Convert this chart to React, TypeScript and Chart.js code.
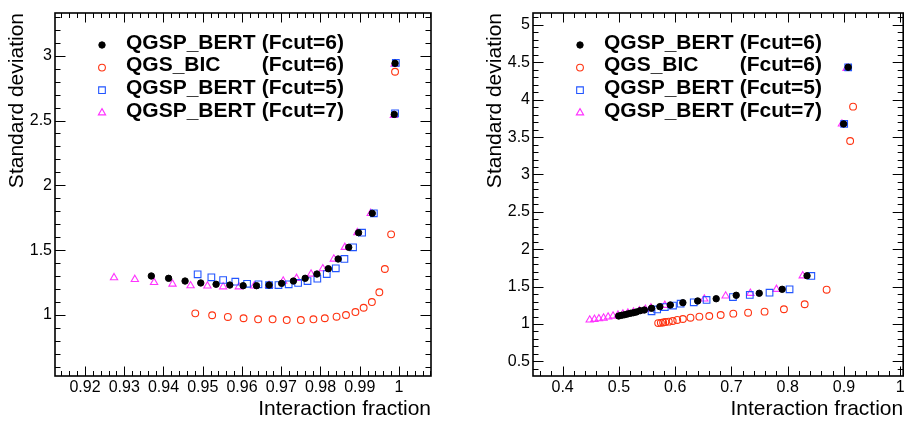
import React, { useEffect, useRef } from 'react';
import { Chart, registerables } from 'chart.js';

Chart.register(...registerables);

const FONT = "'Liberation Sans', Arial, Helvetica, sans-serif";

// ---------- Legend ----------
const legendNames = ['QGSP_BERT', 'QGS_BIC', 'QGSP_BERT', 'QGSP_BERT'];
const legendCuts = ['(Fcut=6)', '(Fcut=6)', '(Fcut=5)', '(Fcut=7)'];

// ---------- Left panel (high interaction fraction) ----------
const leftXTicks = [0.92, 0.93, 0.94, 0.95, 0.96, 0.97, 0.98, 0.99, 1];
const leftYTicks = [1, 1.5, 2, 2.5, 3];

const leftBertF6X = [0.9369, 0.9413, 0.9455, 0.9495, 0.9534, 0.9569, 0.9603, 0.9637, 0.9669, 0.9701, 0.9731, 0.9761, 0.9791, 0.982, 0.9845, 0.9872, 0.9897, 0.9932, 0.9988, 0.999];
const leftBertF6Y = [1.301, 1.283, 1.262, 1.247, 1.237, 1.231, 1.226, 1.226, 1.231, 1.244, 1.262, 1.283, 1.316, 1.357, 1.432, 1.522, 1.635, 1.784, 2.547, 2.941];

const leftBicX = [0.9481, 0.9524, 0.9564, 0.9604, 0.9641, 0.9678, 0.9714, 0.975, 0.9782, 0.9811, 0.9841, 0.9865, 0.9889, 0.991, 0.9931, 0.995, 0.9964, 0.998, 0.999];
const leftBicY = [1.013, 0.998, 0.985, 0.975, 0.967, 0.967, 0.961, 0.961, 0.967, 0.975, 0.987, 1.0, 1.023, 1.056, 1.1, 1.175, 1.355, 1.622, 2.876];

const leftBertF5X = [0.9487, 0.9522, 0.9552, 0.9583, 0.9613, 0.9642, 0.9669, 0.9693, 0.9719, 0.9743, 0.9767, 0.9792, 0.9816, 0.9839, 0.9861, 0.9883, 0.9906, 0.9936, 0.999, 0.9992];
const leftBertF5Y = [1.314, 1.291, 1.27, 1.257, 1.241, 1.237, 1.231, 1.231, 1.237, 1.247, 1.262, 1.28, 1.316, 1.36, 1.432, 1.522, 1.635, 1.784, 2.555, 2.945];

const leftBertF7X = [0.9274, 0.9327, 0.9376, 0.9423, 0.9469, 0.9512, 0.9552, 0.9592, 0.9631, 0.9669, 0.9705, 0.9739, 0.9776, 0.9806, 0.9834, 0.9862, 0.9894, 0.9928, 0.9987, 0.9989];
const leftBertF7Y = [1.288, 1.275, 1.252, 1.239, 1.226, 1.224, 1.218, 1.218, 1.224, 1.229, 1.262, 1.283, 1.316, 1.357, 1.432, 1.522, 1.635, 1.784, 2.54, 2.935];

// ---------- Right panel (full range) ----------
const rightXTicks = [0.4, 0.5, 0.6, 0.7, 0.8, 0.9, 1];
const rightYTicks = [0.5, 1, 1.5, 2, 2.5, 3, 3.5, 4, 4.5, 5];

const rightBertF6X = [0.4996, 0.5048, 0.5101, 0.5154, 0.5206, 0.5259, 0.5312, 0.5377, 0.5452, 0.558, 0.5728, 0.5914, 0.6137, 0.64, 0.6729, 0.7085, 0.7494, 0.7902, 0.8344, 0.8994, 0.9075];
const rightBertF6Y = [1.107, 1.116, 1.124, 1.134, 1.143, 1.151, 1.161, 1.178, 1.187, 1.21, 1.232, 1.254, 1.285, 1.308, 1.338, 1.384, 1.411, 1.464, 1.645, 3.676, 4.434];

const rightBicX = [0.5698, 0.5745, 0.5786, 0.5826, 0.5886, 0.5956, 0.6037, 0.6137, 0.6272, 0.643, 0.6606, 0.6809, 0.7033, 0.7296, 0.7589, 0.7933, 0.8302, 0.8692, 0.911, 0.9162];
const rightBicY = [1.012, 1.015, 1.02, 1.027, 1.031, 1.04, 1.054, 1.067, 1.084, 1.098, 1.107, 1.12, 1.138, 1.151, 1.165, 1.197, 1.264, 1.459, 3.448, 3.907];

const rightBertF5X = [0.558, 0.568, 0.5816, 0.5961, 0.6097, 0.633, 0.6558, 0.7027, 0.7326, 0.7677, 0.8033, 0.842, 0.9004, 0.9075];
const rightBertF5Y = [1.17, 1.194, 1.227, 1.247, 1.272, 1.29, 1.321, 1.361, 1.388, 1.419, 1.464, 1.642, 3.676, 4.434];

const rightBertF7X = [0.4481, 0.4565, 0.4644, 0.4727, 0.4808, 0.4896, 0.4983, 0.5071, 0.5159, 0.5259, 0.5364, 0.547, 0.557, 0.5816, 0.6518, 0.6897, 0.7336, 0.78, 0.8267, 0.8964, 0.9047];
const rightBertF7Y = [1.054, 1.063, 1.071, 1.08, 1.094, 1.107, 1.12, 1.134, 1.147, 1.161, 1.178, 1.197, 1.215, 1.25, 1.335, 1.375, 1.411, 1.464, 1.645, 3.676, 4.42];

// ---------- Styles ----------
type MarkerStyle = { pointStyle: 'circle' | 'rect' | 'triangle'; radius: number; fill: string; stroke: string; lw: number };
const STYLES: MarkerStyle[] = [
  { pointStyle: 'circle', radius: 3.2, fill: '#000000', stroke: '#000000', lw: 1 },
  { pointStyle: 'circle', radius: 3.4, fill: 'rgba(0,0,0,0)', stroke: '#ff3311', lw: 1.1 },
  { pointStyle: 'rect', radius: 4.7, fill: 'rgba(0,0,0,0)', stroke: '#2255ff', lw: 1.1 },
  { pointStyle: 'triangle', radius: 4.2, fill: 'rgba(0,0,0,0)', stroke: '#ff33ff', lw: 1.1 },
];

function drawMarker(ctx: CanvasRenderingContext2D, s: MarkerStyle, x: number, y: number) {
  ctx.save();
  ctx.beginPath();
  const r = s.radius;
  if (s.pointStyle === 'circle') {
    ctx.arc(x, y, r, 0, Math.PI * 2);
  } else if (s.pointStyle === 'rect') {
    const h = r * Math.SQRT1_2;
    ctx.rect(x - h, y - h, 2 * h, 2 * h);
  } else {
    ctx.moveTo(x, y - r);
    ctx.lineTo(x + r * Math.sin(Math.PI / 3 * 2), y - r * Math.cos(Math.PI / 3 * 2));
    ctx.lineTo(x - r * Math.sin(Math.PI / 3 * 2), y - r * Math.cos(Math.PI / 3 * 2));
    ctx.closePath();
  }
  ctx.fillStyle = s.fill;
  ctx.fill();
  ctx.lineWidth = s.lw;
  ctx.strokeStyle = s.stroke;
  ctx.stroke();
  ctx.restore();
}

function fmt(v: number) {
  return String(Number(v.toFixed(3)));
}

function minorValues(min: number, max: number, step: number) {
  const out: number[] = [];
  const start = Math.ceil(min / step - 1e-9);
  const end = Math.floor(max / step + 1e-9);
  for (let i = start; i <= end; i++) out.push(i * step);
  return out;
}

type PanelProps = {
  xs: number[][];
  ys: number[][];
  xMin: number; xMax: number; yMin: number; yMax: number;
  xTicks: number[]; yTicks: number[];
  xMinor: number; yMinor: number;
  width: number; left: number; padRight: number;
};

function Panel(p: PanelProps) {
  const ref = useRef<HTMLCanvasElement | null>(null);
  useEffect(() => {
    if (!ref.current) return;
    const datasets = p.xs.map((xArr, i) => ({
      label: legendNames[i] + ' ' + legendCuts[i],
      data: xArr.map((x, j) => ({ x, y: p.ys[i][j] })),
      showLine: false,
      pointStyle: STYLES[i].pointStyle,
      pointRadius: STYLES[i].radius,
      pointBackgroundColor: STYLES[i].fill,
      pointBorderColor: STYLES[i].stroke,
      pointBorderWidth: STYLES[i].lw,
      order: i,
    }));
    const xMinorVals = minorValues(p.xMin, p.xMax, p.xMinor);
    const yMinorVals = minorValues(p.yMin, p.yMax, p.yMinor);
    const framePlugin = {
      id: 'rootFrame',
      afterDraw(chart: any) {
        const { ctx, chartArea: a, scales } = chart;
        const xs = scales.x, ys = scales.y;
        ctx.save();
        ctx.strokeStyle = '#000';
        ctx.lineWidth = 1;
        ctx.beginPath();
        const xt = (v: number, len: number) => {
          const px = Math.round(xs.getPixelForValue(v)) + 0.5;
          ctx.moveTo(px, a.bottom); ctx.lineTo(px, a.bottom - len);
          ctx.moveTo(px, a.top); ctx.lineTo(px, a.top + len);
        };
        const yt = (v: number, len: number) => {
          const py = Math.round(ys.getPixelForValue(v)) + 0.5;
          ctx.moveTo(a.left, py); ctx.lineTo(a.left + len, py);
          ctx.moveTo(a.right, py); ctx.lineTo(a.right - len, py);
        };
        xMinorVals.forEach((v) => xt(v, 5));
        p.xTicks.forEach((v) => xt(v, 9.5));
        yMinorVals.forEach((v) => yt(v, 5.5));
        p.yTicks.forEach((v) => yt(v, 10.5));
        ctx.stroke();
        ctx.lineWidth = 1.6;
        ctx.strokeRect(a.left, a.top, a.right - a.left, a.bottom - a.top);
        // legend
        ctx.fillStyle = '#000';
        ctx.font = `bold 21px ${FONT}`;
        ctx.textBaseline = 'middle';
        legendNames.forEach((name, i) => {
          const ty = 43 + i * 22.6;
          drawMarker(ctx, STYLES[i], 102, ty + 2);
          ctx.textAlign = 'left';
          ctx.fillText(name, 126, ty);
          ctx.textAlign = 'right';
          ctx.fillText(legendCuts[i], 344, ty);
        });
        ctx.restore();
      },
    };
    const chart = new Chart(ref.current, {
      type: 'scatter',
      data: { datasets },
      plugins: [framePlugin],
      options: {
        animation: false,
        responsive: false,
        maintainAspectRatio: false,
        devicePixelRatio: 1,
        layout: { padding: { top: 13, right: p.padRight, bottom: 0, left: 0 } },
        plugins: { legend: { display: false }, tooltip: { enabled: false } },
        scales: {
          x: {
            type: 'linear',
            min: p.xMin,
            max: p.xMax,
            grid: { display: false, drawTicks: false },
            border: { display: false },
            afterBuildTicks: (s: any) => { s.ticks = p.xTicks.map((v) => ({ value: v })); },
            afterFit: (s: any) => { s.height = 46; s.paddingLeft = 0; s.paddingRight = 0; },
            ticks: {
              autoSkip: false, maxRotation: 0, minRotation: 0, padding: 2, color: '#000',
              font: { family: FONT, size: 16 },
              callback: (v: any) => fmt(Number(v)),
            },
            title: {
              display: true, text: 'Interaction fraction', align: 'end', color: '#000',
              font: { family: FONT, size: 21 }, padding: { top: 0, bottom: 0 },
            },
          },
          y: {
            type: 'linear',
            min: p.yMin,
            max: p.yMax,
            grid: { display: false, drawTicks: false },
            border: { display: false },
            afterBuildTicks: (s: any) => { s.ticks = p.yTicks.map((v) => ({ value: v })); },
            afterFit: (s: any) => { s.width = 55; s.paddingTop = 0; s.paddingBottom = 0; },
            ticks: {
              autoSkip: false, padding: 3, color: '#000',
              font: { family: FONT, size: 16 },
              callback: (v: any) => fmt(Number(v)),
            },
            title: {
              display: true, text: 'Standard deviation', align: 'end', color: '#000',
              font: { family: FONT, size: 21 }, padding: { top: 5, bottom: 0 },
            },
          },
        },
      } as any,
    });
    return () => chart.destroy();
  }, []);
  return (
    <canvas
      ref={ref}
      width={p.width}
      height={422}
      style={{ position: 'absolute', left: p.left, top: 0, width: p.width, height: 422, display: 'block' }}
    />
  );
}

export default function App() {
  return (
    <div style={{ position: 'fixed', left: 0, top: 0, width: 909, height: 422, background: '#fff', overflow: 'hidden' }}>
      <Panel
        xs={[leftBertF6X, leftBicX, leftBertF5X, leftBertF7X]}
        ys={[leftBertF6Y, leftBicY, leftBertF5Y, leftBertF7Y]}
        xMin={0.91236} xMax={1.00816} yMin={0.5297} yMax={3.329}
        xTicks={leftXTicks} yTicks={leftYTicks}
        xMinor={0.002} yMinor={0.1}
        width={478} left={0} padRight={47}
      />
      <Panel
        xs={[rightBertF6X, rightBicX, rightBertF5X, rightBertF7X]}
        ys={[rightBertF6Y, rightBicY, rightBertF5Y, rightBertF7Y]}
        xMin={0.3473} xMax={1.0053} yMin={0.3043} yMax={5.16}
        xTicks={rightXTicks} yTicks={rightYTicks}
        xMinor={0.02} yMinor={0.1}
        width={431} left={478} padRight={1}
      />
    </div>
  );
}
